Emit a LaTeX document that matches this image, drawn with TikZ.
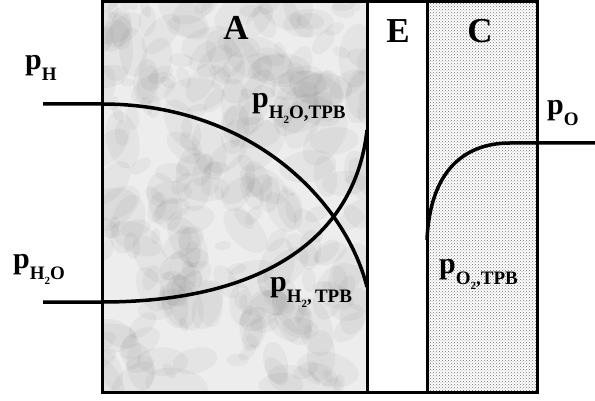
\documentclass[tikz,border=0pt]{standalone}
\usepackage{fontspec}
\setmainfont{Liberation Serif}
\usetikzlibrary{patterns,calc}
\newcommand{\Sub}[1]{\raisebox{-11pt}{\fontsize{19}{19}\selectfont\bfseries #1}}
\newcommand{\Two}{\raisebox{-5pt}{\fontsize{11}{11}\selectfont\bfseries 2}}
\tikzset{
  lbl/.style={font=\fontsize{30}{30}\selectfont\bfseries, inner sep=0pt, anchor=base west},
  zone/.style={font=\fontsize{35}{35}\selectfont\bfseries, inner sep=0pt},
  prof/.style={line width=3.5pt},
  wall/.style={line width=3pt}
}
\begin{document}
\begin{tikzpicture}[x=1pt,y=-1pt]
\useasboundingbox (0,0) rectangle (595,401);
\coordinate (TL) at (102,2);
\coordinate (AEt) at (367,2);
\coordinate (AEb) at (367,392);
\coordinate (ECt) at (427,2);
\coordinate (ECb) at (427,392);
\coordinate (BR) at (537,392);

\fill[gray!14] (TL) rectangle (AEb);
\begin{scope}
\clip (TL) rectangle (AEb);
\pgfmathsetseed{11}
\foreach \i in {1,...,260}{
  \pgfmathsetmacro\cx{102+265*rnd}
  \pgfmathsetmacro\cy{2+390*rnd}
  \pgfmathsetmacro\rr{4+14*rnd}
  \pgfmathsetmacro\ang{180*rnd}
  \fill[black,opacity=0.035,rotate around={\ang:(\cx,\cy)}] (\cx,\cy) ellipse ({\rr*1.8} and \rr);
}
\end{scope}
\fill[pattern=crosshatch dots, pattern color=black!55] (ECt) rectangle (BR);

\draw[wall] (TL) rectangle (BR);
\draw[wall] (AEt) -- (AEb);
\draw[wall] (ECt) -- (ECb);

\coordinate (H0) at (43,104);
\coordinate (H1) at (102,104);
\coordinate (H2) at (367,287);
\coordinate (W0) at (43,302);
\coordinate (W1) at (102,302);
\coordinate (W2) at (367,130);
\coordinate (O0) at (427,240);
\coordinate (O1) at (510,143);
\coordinate (O2) at (595,143);

\draw[prof] (H0) -- (H1) .. controls (250,104) and (345,200) .. (H2);
\draw[prof] (W0) -- (W1) .. controls (260,302) and (355,240) .. (W2);
\draw[prof] (O0) .. controls (430,170) and (465,143) .. (O1) -- (O2);

\node[zone] (A) at (236,28) {A};
\node[zone] (E) at (398,31) {E};
\node[zone] (C) at (480,31) {C};

\node[lbl] (pH) at (25,70) {p\Sub{H}};
\node[lbl] (pW) at (13,269) {p\Sub{H\Two O}};
\node[lbl] (pWT) at (252,108) {p\Sub{H\Two O,TPB}};
\node[lbl] (pHT) at (270,291) {p\Sub{H\Two,\,TPB}};
\node[lbl] (pO) at (547,115) {p\Sub{O}};
\node[lbl] (pOT) at (439,273) {p\Sub{O\Two,TPB}};
\end{tikzpicture}
\end{document}
